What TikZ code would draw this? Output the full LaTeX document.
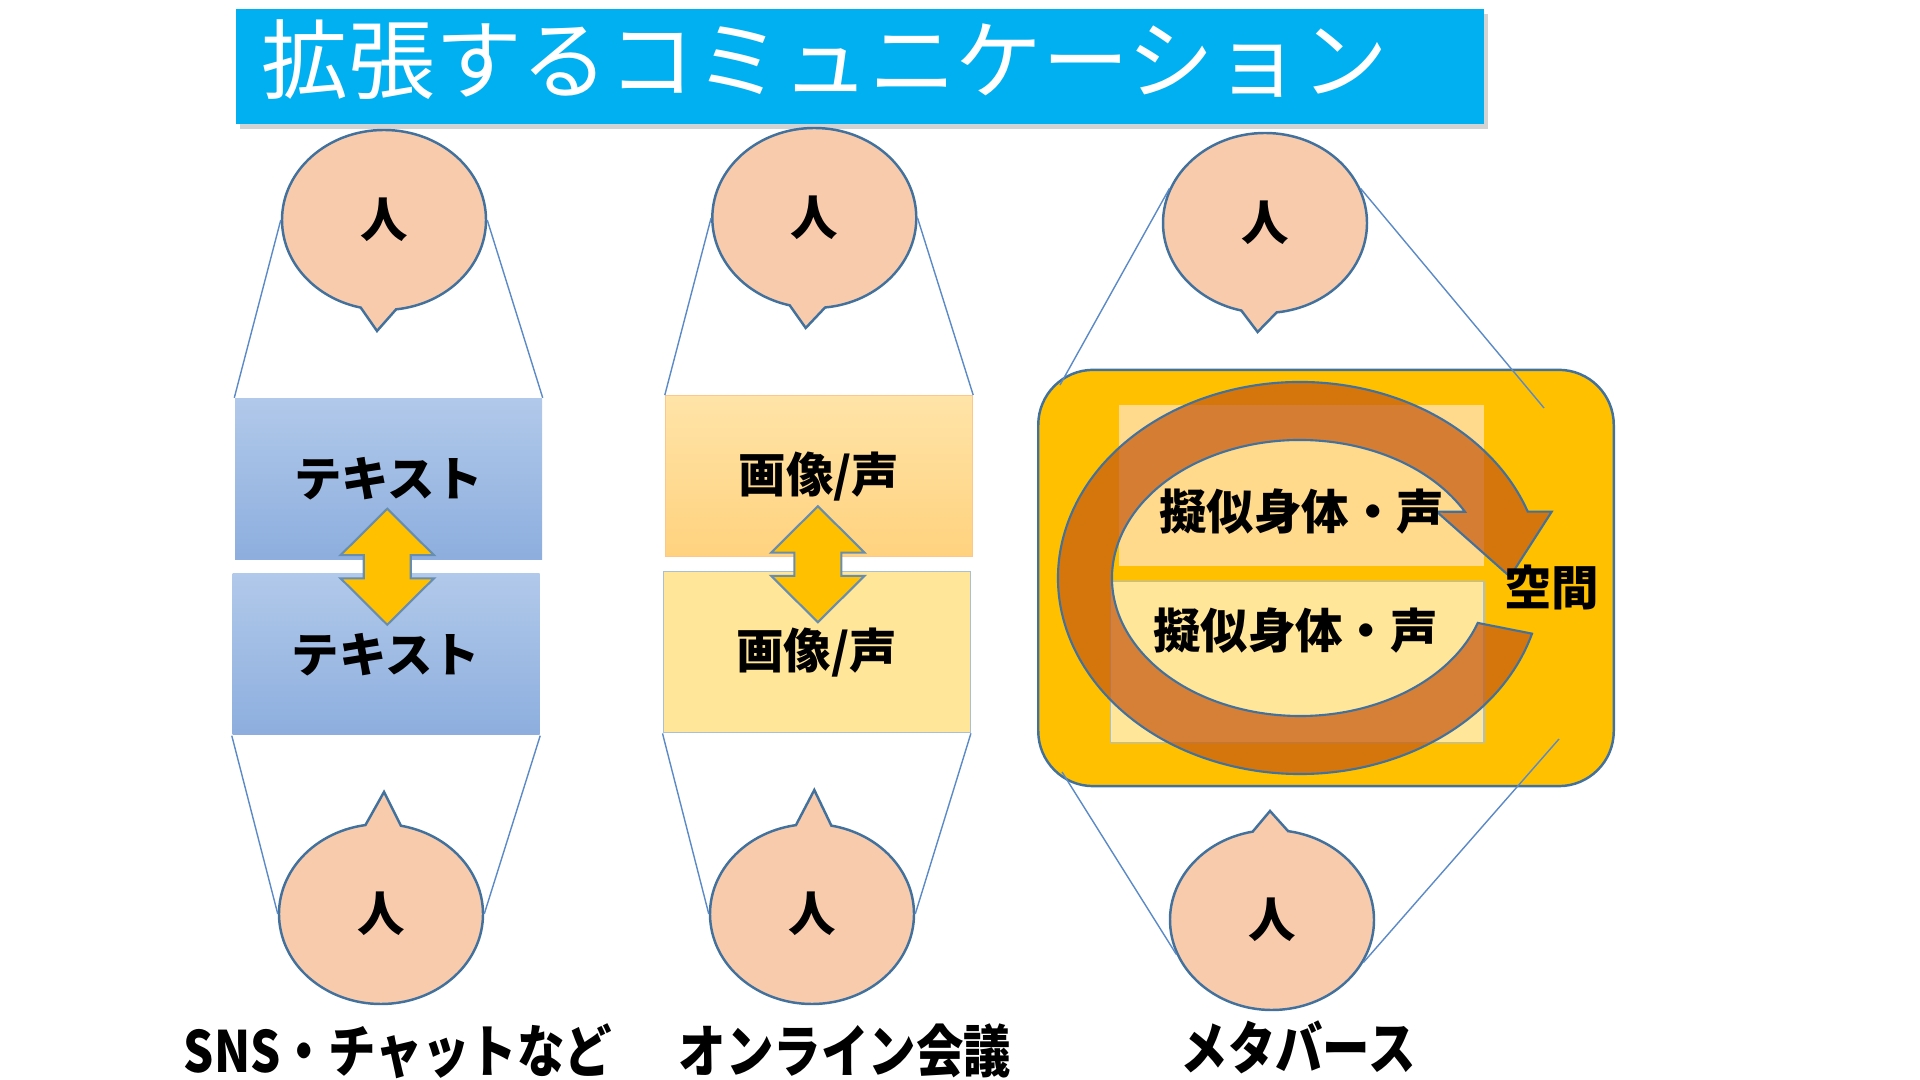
\documentclass[tikz,border=0pt]{standalone}
\usepackage{fontspec}
\setmainfont{Noto Sans CJK JP}
\usepackage{graphicx}
\usepackage{tikz}
\usetikzlibrary{positioning,calc,shapes.callouts,shadows}

\definecolor{skyband}{HTML}{00B0F0}
\definecolor{skin}{HTML}{F8CBAD}
\definecolor{edgeblue}{HTML}{41719C}
\definecolor{linkblue}{HTML}{5B8AC6}
\definecolor{goldfill}{HTML}{FFC000}
\definecolor{paleyel}{HTML}{FFE699}
\definecolor{paleorg}{HTML}{FFD98C}
\definecolor{rustring}{HTML}{C55A11}
\definecolor{bluetop}{HTML}{B1C9EA}
\definecolor{bluebot}{HTML}{8DAEDE}
\definecolor{orgtop}{HTML}{FFE4A8}
\definecolor{orgbot}{HTML}{FFD27E}

\begin{document}
\begin{tikzpicture}[
    font=\fontsize{13.5}{16}\selectfont\bfseries,
    person/.style={ellipse callout,draw=edgeblue,line width=0.7pt,fill=skin,minimum width=2.04cm,minimum height=1.8cm,callout pointer arc=20,inner sep=0pt},
    panel/.style={rectangle,minimum width=3.07cm,minimum height=1.61cm,inner sep=0pt},
    textpanel/.style={panel,top color=bluetop,bottom color=bluebot},
    mediapanel/.style={panel,draw=orange!45,line width=0.4pt,top color=orgtop,bottom color=orgbot},
    lowpanel/.style={panel,draw=edgeblue!45,line width=0.4pt,fill=paleyel},
    link/.style={draw=linkblue,line width=0.4pt},
    caption/.style={font=\fontsize{13.5}{16}\selectfont\bfseries},
    updown/.pic={
      \draw[fill=goldfill,draw=edgeblue!80,line width=0.6pt]
        (0,0.58) -- (0.467,0.116) -- (0.235,0.116) -- (0.235,-0.116) -- (0.467,-0.116)
        -- (0,-0.58) -- (-0.467,-0.116) -- (-0.235,-0.116) -- (-0.235,0.116) -- (-0.467,0.116) -- cycle;
    }
  ]
  \useasboundingbox (0,0) rectangle (19.2,10.8);

  % title
  \node[fill=skyband,minimum width=12.48cm,minimum height=1.15cm,
        drop shadow={shadow xshift=0.04cm,shadow yshift=-0.05cm,opacity=0.35}] (bar) at (8.6,10.135) {};
  \node[anchor=west,text=white,font=\fontsize{24.7}{28}\selectfont] (title) at (2.49,10.2) {拡張するコミュニケーション};

  % SNS
  \node[person,callout absolute pointer={(3.77,7.49)}] (head1t) at (3.84,8.6) {人};
  \node[textpanel] (txt1t) at (3.885,6.01) {テキスト};
  \node[textpanel] (txt1b) at (3.86,4.255) {テキスト};
  \node[person,callout absolute pointer={(3.84,2.88)}] (head1b) at (3.81,1.66) {人};
  \draw[link] (head1t.west) -- (txt1t.north west);
  \draw[link] (head1t.east) -- (txt1t.north east);
  \draw[link] (txt1b.south west) -- (head1b.west);
  \draw[link] (txt1b.south east) -- (head1b.east);
  \pic at ($(txt1t.south)!0.5!(txt1b.north)$) {updown};
  \node[caption] (cap1) at (3.98,0.29) {\scalebox{1}[1.2]{SNS・チャットなど}};

  % online meeting
  \node[person,callout absolute pointer={(8.057,7.52)}] (head2t) at (8.143,8.62) {人};
  \node[mediapanel] (img2t) at (8.19,6.037) {画像/声};
  \node[lowpanel] (img2b) at (8.167,4.278) {画像/声};
  \node[person,callout absolute pointer={(8.143,2.9)}] (head2b) at (8.12,1.66) {人};
  \draw[link] (head2t.west) -- (img2t.north west);
  \draw[link] (head2t.east) -- (img2t.north east);
  \draw[link] (img2b.south west) -- (head2b.west);
  \draw[link] (img2b.south east) -- (head2b.east);
  \pic at ($(img2t.south)!0.5!(img2b.north)$) {updown};
  \node[caption] (cap2) at (8.45,0.29) {\scalebox{1}[1.2]{オンライン会議}};

  % metaverse
  \node[person,callout absolute pointer={(12.576,7.48)}] (head3t) at (12.65,8.57) {人};
  \node[person,callout absolute pointer={(12.7,2.69)}] (head3b) at (12.72,1.6) {人};
  \node[draw=edgeblue,line width=0.7pt,fill=goldfill,rounded corners=0.55cm,
        minimum width=5.755cm,minimum height=4.163cm] (space) at (13.26,5.02) {};
  \node[panel,fill=paleorg,minimum width=3.65cm] (body3t) at (13.017,5.945) {};
  \node[lowpanel,minimum width=3.735cm] (body3b) at (12.974,4.182) {};
  \coordinate (tl3) at (10.6,6.95);
  \coordinate (tr3) at (15.44,6.72);
  \coordinate (bl3) at (10.62,3.08);
  \coordinate (br3) at (15.59,3.41);
  \draw[link] (head3t.160) -- (tl3);
  \draw[link] (head3t.20) -- (tr3);
  \draw[link] (bl3) -- (head3b.200);
  \draw[link] (br3) -- (head3b.-25);
  \coordinate (ringc) at (13,5.02);
  \filldraw[fill=rustring,fill opacity=0.72,draw=edgeblue,line width=0.6pt]
    ($(ringc)+(-16.5:2.42 and 1.96)$) arc[start angle=-16.5,end angle=-340.2,x radius=2.42cm,y radius=1.96cm]
    -- (15.517,5.683) -- (15.1,5.033) -- (14.367,5.683)
    -- ($(ringc)+(28.7:1.88 and 1.38)$) arc[start angle=28.7,end angle=341,x radius=1.88cm,y radius=1.38cm] -- cycle;
  \node (avatar3t) at (13.016,5.682) {擬似身体・声};
  \node (avatar3b) at (12.955,4.494) {擬似身体・声};
  \node (room) at (15.517,4.925) {空間};
  \node[caption] (cap3) at (12.98,0.33) {\scalebox{1}[1.2]{メタバース}};
\end{tikzpicture}
\end{document}
